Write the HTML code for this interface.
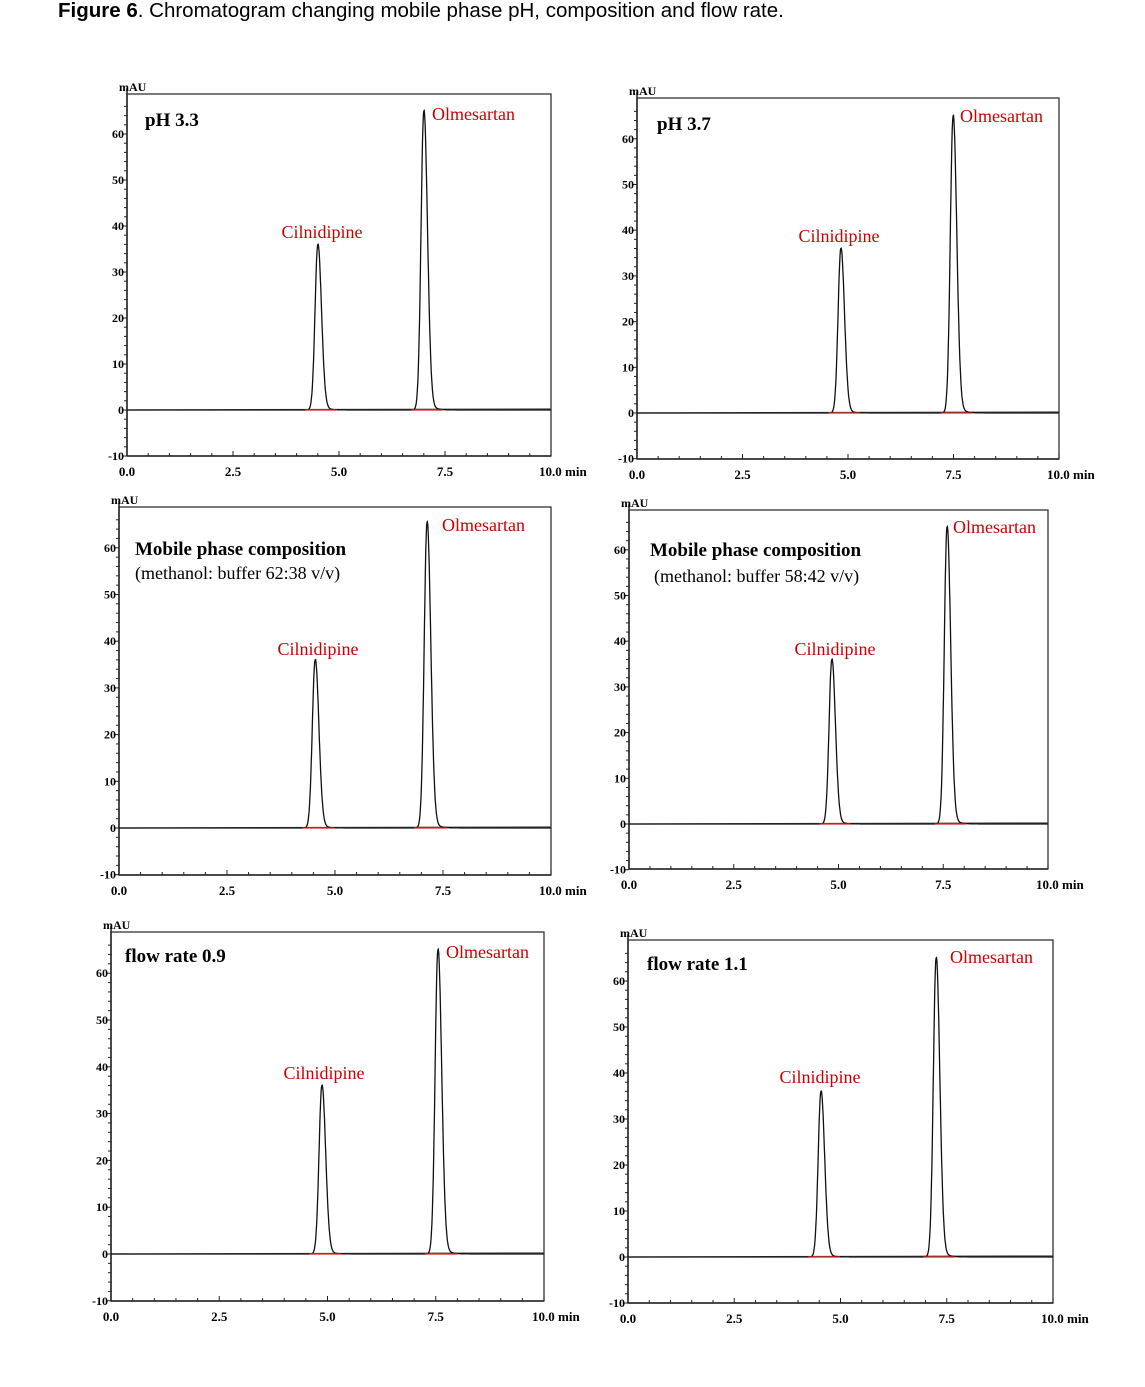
<!DOCTYPE html>
<html><head><meta charset="utf-8"><style>
body{margin:0;background:#fff;}
svg text{font-family:"Liberation Serif",serif;}
</style></head><body>
<svg id="s" width="1145" height="1382" xmlns="http://www.w3.org/2000/svg">
<text x="58" y="17" style="font-family:'Liberation Sans',sans-serif;font-size:20.5px"><tspan font-weight="600">Figure 6</tspan>. Chromatogram changing mobile phase pH, composition and flow rate.</text>
</svg>
<script>
const P=[
 {ax:127,top:94,r:551,b:456,z:410,s:4.6,c:[4.5,36],o:[7.0,65],t:[["pH 3.3",145,126,19,1]],cl:[322,238],ol:[432,120]},
 {ax:637,top:98,r:1059,b:459,z:413,s:4.57,c:[4.83,36],o:[7.49,65],t:[["pH 3.7",657,130,19,1]],cl:[839,242],ol:[960,122]},
 {ax:119,top:507,r:551,b:875,z:828,s:4.67,c:[4.54,36],o:[7.13,65.5],t:[["Mobile phase composition",135,555,19,1],["(methanol: buffer 62:38 v/v)",135,579,18,0]],cl:[318,655],ol:[442,531]},
 {ax:629,top:510,r:1048,b:869,z:824,s:4.57,c:[4.84,36],o:[7.59,65],t:[["Mobile phase composition",650,556,19,1],["(methanol: buffer 58:42 v/v)",654,582,18,0]],cl:[835,655],ol:[953,533]},
 {ax:111,top:932,r:544,b:1301,z:1254,s:4.68,c:[4.87,36],o:[7.55,65],t:[["flow rate 0.9",125,962,19,1]],cl:[324,1079],ol:[446,958]},
 {ax:628,top:940,r:1053,b:1303,z:1257,s:4.6,c:[4.54,36],o:[7.25,65],t:[["flow rate 1.1",647,970,19,1]],cl:[820,1083],ol:[950,963]}
];
let h='';
function pk(t,t0,H){let d=t-t0;let sg=d<0?0.065:0.085;let v=H*Math.exp(-d*d/(2*sg*sg));if(d>0)v+=H*0.05*Math.exp(-d/0.13)*(1-Math.exp(-d/0.05));return v;}
for(const p of P){
 const w=p.r-p.ax, X=t=>p.ax+w*t/10, Y=v=>p.z-v*p.s;
 h+=`<rect x="${p.ax}" y="${p.top}" width="${w}" height="${p.b-p.top}" fill="none" stroke="#333" stroke-width="1.3"/>`;
 h+=`<line x1="${p.ax}" y1="${p.top-6}" x2="${p.ax}" y2="${p.b}" stroke="#222" stroke-width="1.5"/>`;
 h+=`<line x1="${p.ax}" y1="${p.b}" x2="${p.r}" y2="${p.b}" stroke="#222" stroke-width="1.5"/>`;
 for(let v=-10;v<=66;v+=2){const y=Y(v);if(y<p.top-6)break;const mj=v%10==0;h+=`<line x1="${p.ax-(mj?5:3)}" y1="${y}" x2="${p.ax}" y2="${y}" stroke="#222"/>`;
  if(mj)h+=`<text x="${p.ax-3}" y="${y+4}" font-size="12" font-weight="600" text-anchor="end">${v}</text>`;}
 for(let t=0;t<=10;t+=0.5){const x=X(t);const mj=(t*2)%5==0;h+=`<line x1="${x}" y1="${p.b}" x2="${x}" y2="${p.b-(mj?5:3)}" stroke="#222"/>`;}
 ["0.0","2.5","5.0","7.5"].forEach((l,i)=>h+=`<text x="${X(i*2.5)}" y="${p.b+20}" font-size="13" font-weight="600" text-anchor="middle">${l}</text>`);
 h+=`<text x="${X(10)-12}" y="${p.b+20}" font-size="13" font-weight="600">10.0 min</text>`;
 h+=`<text x="${p.ax-8}" y="${p.top-3}" font-size="12" font-weight="bold">mAU</text>`;
 h+=`<line x1="${p.ax}" y1="${p.z}" x2="${p.r}" y2="${p.z-1}" stroke="#444" stroke-width="1.3"/>`;
 let d='';for(let t=0;t<=10;t+=0.01){const v=pk(t,p.c[0],p.c[1])+pk(t,p.o[0],p.o[1]);d+=(d?'L':'M')+X(t).toFixed(1)+','+Y(v).toFixed(1);}
 h+=`<path d="${d}" fill="none" stroke="#111" stroke-width="1.3"/>`;
 for(const q of [p.c,p.o])h+=`<line x1="${X(q[0]-0.3)}" y1="${p.z}" x2="${X(q[0]+0.45)}" y2="${p.z}" stroke="#d22" stroke-width="1.2"/>`;
 for(const t of p.t)h+=`<text x="${t[1]}" y="${t[2]}" font-size="${t[3]}" ${t[4]?'font-weight="bold"':''}>${t[0]}</text>`;
 h+=`<text x="${p.cl[0]}" y="${p.cl[1]}" font-size="18" fill="#c00" text-anchor="middle">Cilnidipine</text>`;
 h+=`<text x="${p.ol[0]}" y="${p.ol[1]}" font-size="18" fill="#c00">Olmesartan</text>`;
}
document.getElementById('s').insertAdjacentHTML('beforeend',h);
</script>
</body></html>
